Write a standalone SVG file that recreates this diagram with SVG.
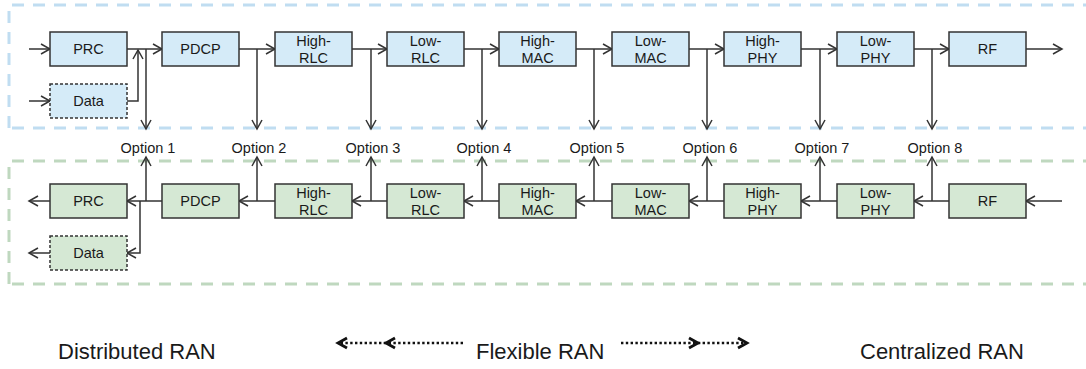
<svg xmlns="http://www.w3.org/2000/svg" width="1086" height="369" viewBox="0 0 1086 369">
<defs>
<marker id="ah" markerUnits="userSpaceOnUse" markerWidth="12" markerHeight="12" refX="9" refY="5" orient="auto" overflow="visible">
<path d="M0,0 L9,5 L0,10" fill="none" stroke="#333" stroke-width="1.5"/>
</marker>
<style>
.bt rect{fill:#d5ebf8;stroke:#333;stroke-width:1.5}
.bg rect{fill:#d5e8d4;stroke:#333;stroke-width:1.5}
.dash rect{stroke-dasharray:3,2}
text{font-family:"Liberation Sans",Arial,sans-serif;fill:#1a1a1a}
.bx{font-size:14.5px;text-anchor:middle}
.opt{font-size:14.5px;text-anchor:middle}
.big{font-size:22px}
.c line,.c path{stroke:#333;stroke-width:1.5;fill:none}
.a{marker-end:url(#ah)}
.cb{stroke:#c0ddf1;stroke-width:3;stroke-dasharray:12,9;fill:none}
.cg{stroke:#bfd8bf;stroke-width:3;stroke-dasharray:12,9;fill:none}
.dt{stroke:#111;stroke-width:2.6;stroke-dasharray:2.4,2.4;fill:none}
.ch{fill:none;stroke:#111;stroke-width:2.8}
</style>
</defs>

<g id="containers">
<path class="cb" d="M12,5 H1086"/>
<path class="cb" d="M9,11 V128"/>
<path class="cb" d="M12,128 H1086"/>
<path class="cg" d="M12,161 H1086"/>
<path class="cg" d="M9,167 V284"/>
<path class="cg" d="M12,284 H1086"/>
</g>

<g id="connectors" class="c">
<line class="a" x1="29" y1="49" x2="50" y2="49"/>
<line class="a" x1="29" y1="101" x2="50" y2="101"/>
<path class="a" d="M127,101 H138 V50"/>
<line class="a" x1="127" y1="49" x2="162" y2="49"/>
<line class="a" x1="239" y1="49" x2="275" y2="49"/>
<line class="a" x1="352" y1="49" x2="387" y2="49"/>
<line class="a" x1="464" y1="49" x2="499" y2="49"/>
<line class="a" x1="576" y1="49" x2="612" y2="49"/>
<line class="a" x1="689" y1="49" x2="724" y2="49"/>
<line class="a" x1="801" y1="49" x2="837" y2="49"/>
<line class="a" x1="914" y1="49" x2="949" y2="49"/>
<line class="a" x1="1026" y1="49" x2="1062" y2="49"/>
<line class="a" x1="146" y1="49" x2="146" y2="129"/>
<line class="a" x1="257" y1="49" x2="257" y2="129"/>
<line class="a" x1="371" y1="49" x2="371" y2="129"/>
<line class="a" x1="482" y1="49" x2="482" y2="129"/>
<line class="a" x1="594" y1="49" x2="594" y2="129"/>
<line class="a" x1="707" y1="49" x2="707" y2="129"/>
<line class="a" x1="820" y1="49" x2="820" y2="129"/>
<line class="a" x1="932" y1="49" x2="932" y2="129"/>
<line class="a" x1="50" y1="201" x2="29" y2="201"/>
<line class="a" x1="50" y1="253" x2="29" y2="253"/>
<line class="a" x1="162" y1="201" x2="127" y2="201"/>
<path class="a" d="M140,201 V253 H127"/>
<line class="a" x1="275" y1="201" x2="239" y2="201"/>
<line class="a" x1="387" y1="201" x2="352" y2="201"/>
<line class="a" x1="499" y1="201" x2="464" y2="201"/>
<line class="a" x1="612" y1="201" x2="576" y2="201"/>
<line class="a" x1="724" y1="201" x2="689" y2="201"/>
<line class="a" x1="837" y1="201" x2="801" y2="201"/>
<line class="a" x1="949" y1="201" x2="914" y2="201"/>
<line class="a" x1="1062" y1="201" x2="1026" y2="201"/>
<line class="a" x1="146" y1="201" x2="146" y2="157"/>
<line class="a" x1="257" y1="201" x2="257" y2="157"/>
<line class="a" x1="371" y1="201" x2="371" y2="157"/>
<line class="a" x1="482" y1="201" x2="482" y2="157"/>
<line class="a" x1="594" y1="201" x2="594" y2="157"/>
<line class="a" x1="707" y1="201" x2="707" y2="157"/>
<line class="a" x1="820" y1="201" x2="820" y2="157"/>
<line class="a" x1="932" y1="201" x2="932" y2="157"/>
</g>

<g id="top-row" class="bt">
<g id="t-prc"><rect x="50" y="32" width="77" height="34"/><text class="bx" x="88.5" y="54">PRC</text></g>
<g id="t-data" class="dash"><rect x="50" y="84" width="77" height="34"/><text class="bx" x="88.5" y="106">Data</text></g>
<g id="t-pdcp"><rect x="162" y="32" width="77" height="34"/><text class="bx" x="200.5" y="54">PDCP</text></g>
<g id="t-hrlc"><rect x="275" y="32" width="77" height="34"/><text class="bx" x="313.5" y="46">High-</text><text class="bx" x="313.5" y="63">RLC</text></g>
<g id="t-lrlc"><rect x="387" y="32" width="77" height="34"/><text class="bx" x="425.5" y="46">Low-</text><text class="bx" x="425.5" y="63">RLC</text></g>
<g id="t-hmac"><rect x="499" y="32" width="77" height="34"/><text class="bx" x="537.5" y="46">High-</text><text class="bx" x="537.5" y="63">MAC</text></g>
<g id="t-lmac"><rect x="612" y="32" width="77" height="34"/><text class="bx" x="650.5" y="46">Low-</text><text class="bx" x="650.5" y="63">MAC</text></g>
<g id="t-hphy"><rect x="724" y="32" width="77" height="34"/><text class="bx" x="762.5" y="46">High-</text><text class="bx" x="762.5" y="63">PHY</text></g>
<g id="t-lphy"><rect x="837" y="32" width="77" height="34"/><text class="bx" x="875.5" y="46">Low-</text><text class="bx" x="875.5" y="63">PHY</text></g>
<g id="t-rf"><rect x="949" y="32" width="77" height="34"/><text class="bx" x="987.5" y="54">RF</text></g>
</g>

<g id="bottom-row" class="bg">
<g id="b-prc"><rect x="50" y="184" width="77" height="34"/><text class="bx" x="88.5" y="206">PRC</text></g>
<g id="b-data" class="dash"><rect x="50" y="236" width="77" height="34"/><text class="bx" x="88.5" y="258">Data</text></g>
<g id="b-pdcp"><rect x="162" y="184" width="77" height="34"/><text class="bx" x="200.5" y="206">PDCP</text></g>
<g id="b-hrlc"><rect x="275" y="184" width="77" height="34"/><text class="bx" x="313.5" y="198">High-</text><text class="bx" x="313.5" y="215">RLC</text></g>
<g id="b-lrlc"><rect x="387" y="184" width="77" height="34"/><text class="bx" x="425.5" y="198">Low-</text><text class="bx" x="425.5" y="215">RLC</text></g>
<g id="b-hmac"><rect x="499" y="184" width="77" height="34"/><text class="bx" x="537.5" y="198">High-</text><text class="bx" x="537.5" y="215">MAC</text></g>
<g id="b-lmac"><rect x="612" y="184" width="77" height="34"/><text class="bx" x="650.5" y="198">Low-</text><text class="bx" x="650.5" y="215">MAC</text></g>
<g id="b-hphy"><rect x="724" y="184" width="77" height="34"/><text class="bx" x="762.5" y="198">High-</text><text class="bx" x="762.5" y="215">PHY</text></g>
<g id="b-lphy"><rect x="837" y="184" width="77" height="34"/><text class="bx" x="875.5" y="198">Low-</text><text class="bx" x="875.5" y="215">PHY</text></g>
<g id="b-rf"><rect x="949" y="184" width="77" height="34"/><text class="bx" x="987.5" y="206">RF</text></g>
</g>

<g id="options">
<text class="opt" x="148" y="153">Option 1</text>
<text class="opt" x="259" y="153">Option 2</text>
<text class="opt" x="373" y="153">Option 3</text>
<text class="opt" x="484" y="153">Option 4</text>
<text class="opt" x="597" y="153">Option 5</text>
<text class="opt" x="710" y="153">Option 6</text>
<text class="opt" x="822" y="153">Option 7</text>
<text class="opt" x="935" y="153">Option 8</text>
</g>

<g id="legend">
<text class="big" x="58" y="359">Distributed RAN</text>
<text class="big" x="476" y="359">Flexible RAN</text>
<text class="big" x="860" y="359">Centralized RAN</text>
<line class="dt" x1="463" y1="343" x2="341" y2="343"/>
<path class="ch" d="M347,338 L338,343 L347,348"/>
<path class="ch" d="M395,338 L386,343 L395,348"/>
<line class="dt" x1="621" y1="343" x2="743" y2="343"/>
<path class="ch" d="M689,338 L698,343 L689,348"/>
<path class="ch" d="M738,338 L747,343 L738,348"/>
</g>
</svg>
